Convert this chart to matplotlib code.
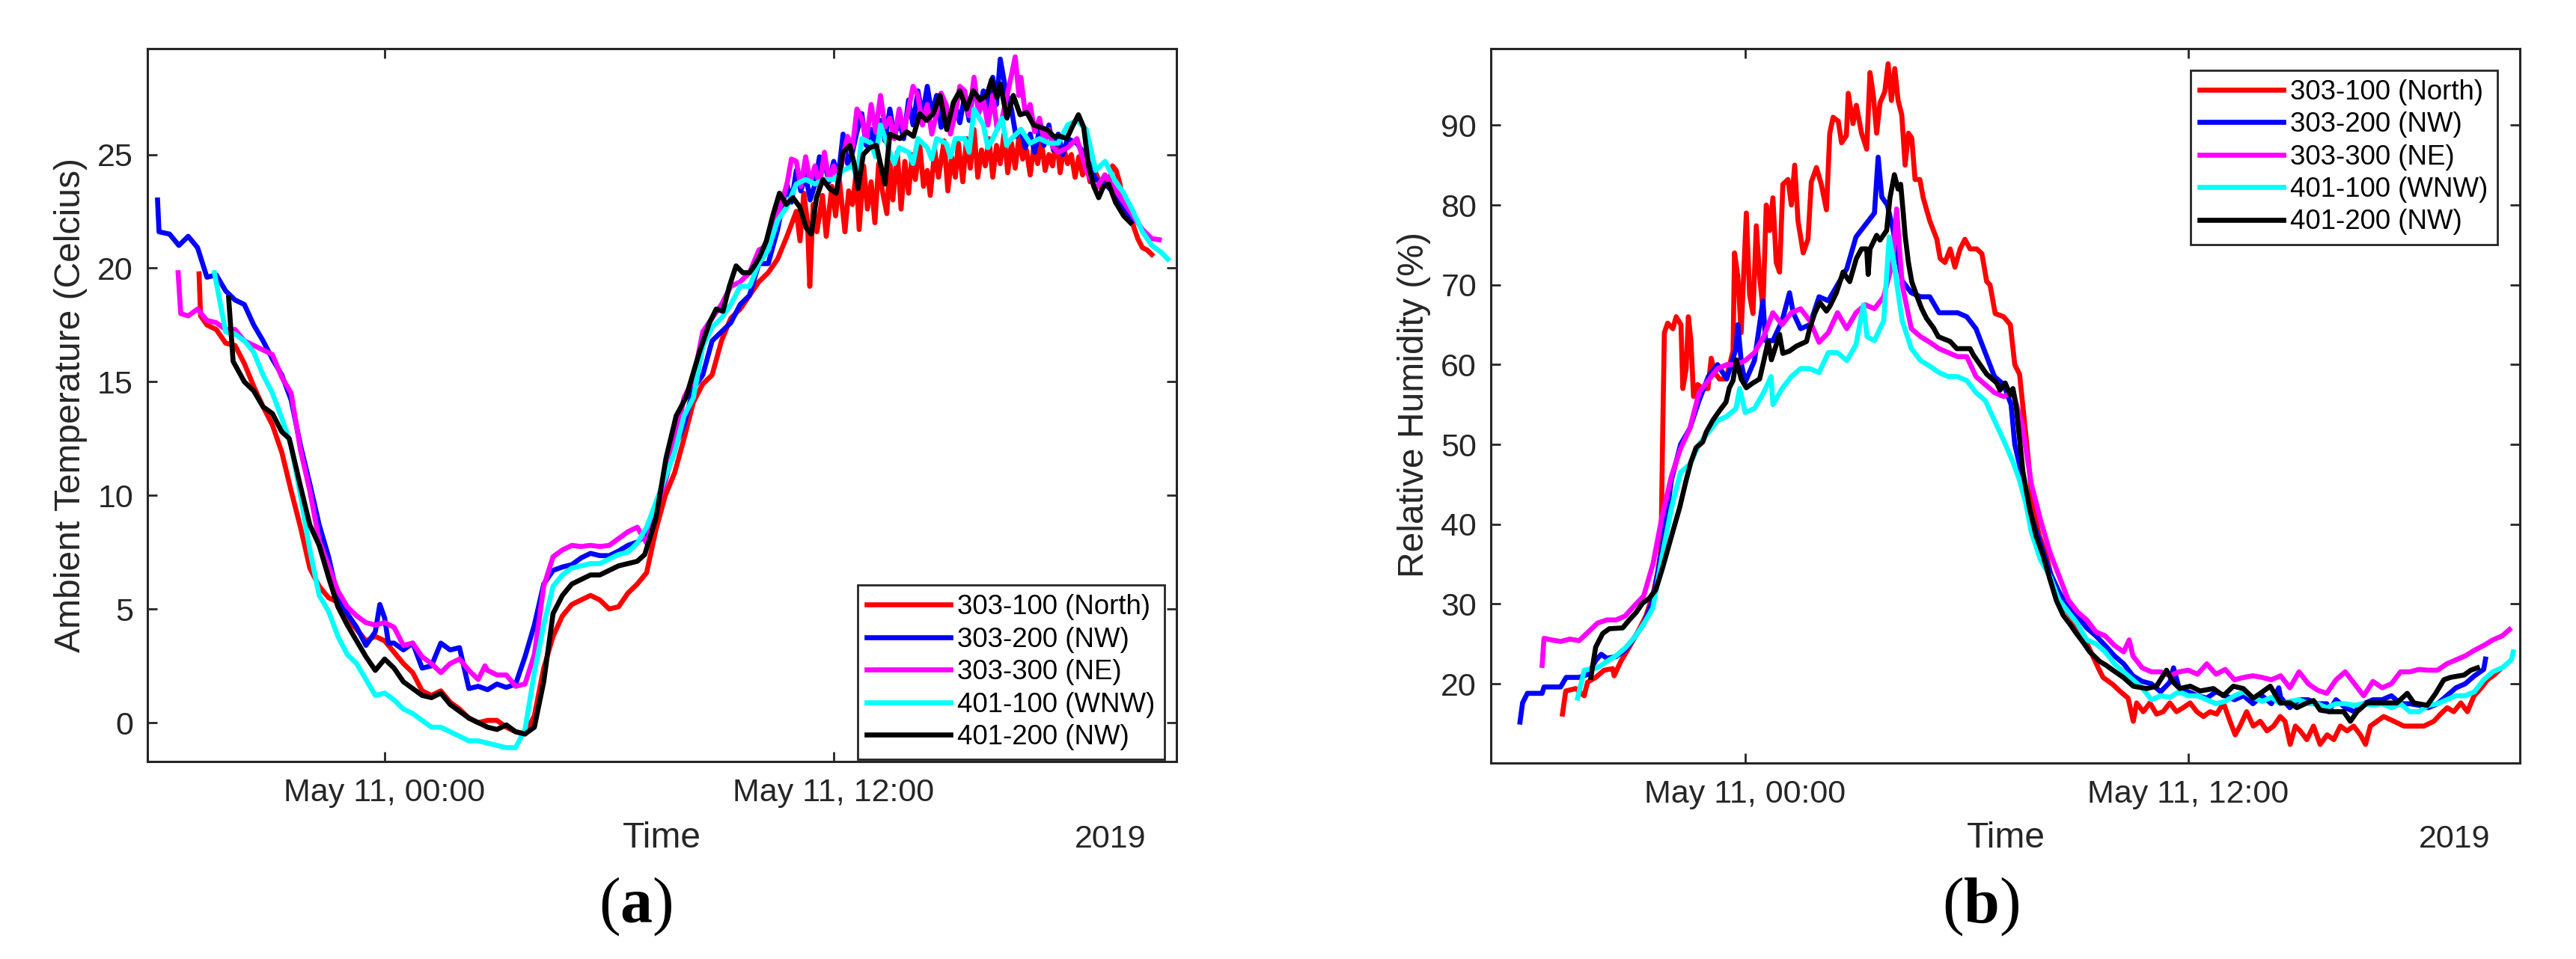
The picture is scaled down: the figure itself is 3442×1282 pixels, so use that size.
import numpy as np
import pandas as pd
import matplotlib
matplotlib.use('Agg')
import matplotlib.pyplot as plt

plt.rcParams['font.family'] = ['Liberation Sans', 'DejaVu Sans']
plt.rcParams['mathtext.fontset'] = 'custom'
plt.rcParams['mathtext.rm'] = 'Liberation Serif'
plt.rcParams['mathtext.bf'] = 'Liberation Serif:bold'

# sensor names and MATLAB colours
labels = ['303-100 (North)', '303-200 (NW)', '303-300 (NE)', '401-100 (WNW)', '401-200 (NW)']
colors = ['#FF0000', '#0000FF', '#FF00FF', '#00FFFF', '#000000']

# (hours from May 11 00:00, value)
# --- panel (a): ambient temperature, Celcius
a_red = [(-4.96, 19.75), (-4.92, 17.9), (-4.75, 17.5), (-4.5, 17.3), (-4.25, 16.7), (-4.0, 16.6),
         (-3.75, 15.8), (-3.5, 14.8), (-3.25, 13.9), (-3.0, 13.1), (-2.75, 11.9), (-2.5, 10.2),
         (-2.25, 8.6), (-2.0, 6.8), (-1.75, 6.0), (-1.5, 5.5), (-1.25, 5.3), (-1.0, 4.6), (-0.75, 4.1),
         (-0.5, 3.6), (-0.25, 3.8), (0.0, 3.6), (0.25, 3.1), (0.5, 2.6), (0.75, 2.2), (1.0, 1.4),
         (1.25, 1.2), (1.5, 1.4), (1.75, 0.9), (2.0, 0.6), (2.25, 0.2), (2.5, 0.0), (2.75, 0.1),
         (3.0, 0.1), (3.25, -0.2), (3.5, -0.4), (3.75, -0.5), (4.0, 0.3), (4.25, 2.4), (4.5, 3.8),
         (4.75, 4.7), (5.0, 5.2), (5.25, 5.4), (5.5, 5.6), (5.75, 5.4), (6.0, 5.0), (6.25, 5.1),
         (6.5, 5.7), (6.75, 6.1), (7.0, 6.6), (7.25, 8.5), (7.5, 10.0), (7.75, 11.0), (8.0, 12.5),
         (8.25, 14.1), (8.5, 14.9), (8.75, 15.3), (9.0, 16.8), (9.25, 17.8), (9.5, 18.2), (9.75, 18.8),
         (10.0, 19.4), (10.25, 19.8), (10.5, 20.4), (10.75, 21.4), (11.0, 22.5), (11.1, 21.2),
         (11.2, 23.3), (11.3, 22.0), (11.36, 19.2), (11.45, 22.8), (11.55, 21.6), (11.7, 23.2),
         (11.8, 21.4), (11.95, 23.6), (12.05, 22.3), (12.15, 23.9), (12.3, 21.6), (12.4, 23.4),
         (12.5, 22.8), (12.6, 24.2), (12.68, 21.7), (12.8, 24.5), (12.9, 22.6), (13.0, 23.8),
         (13.1, 22.0), (13.2, 24.6), (13.3, 23.4), (13.42, 22.4), (13.5, 24.8), (13.58, 23.0),
         (13.7, 25.1), (13.8, 22.6), (13.9, 24.7), (14.0, 23.3), (14.1, 25.0), (14.18, 23.9),
         (14.3, 25.4), (14.4, 23.6), (14.5, 24.3), (14.58, 23.2), (14.7, 25.2), (14.8, 24.0),
         (14.95, 25.6), (15.05, 23.4), (15.15, 24.9), (15.25, 24.0), (15.33, 25.5), (15.45, 23.8),
         (15.55, 25.7), (15.65, 24.4), (15.75, 26.1), (15.85, 24.0), (15.95, 25.2), (16.05, 24.5),
         (16.15, 25.7), (16.25, 24.0), (16.35, 25.4), (16.45, 24.6), (16.55, 25.9), (16.65, 24.2),
         (16.75, 25.5), (16.85, 24.4), (16.95, 25.8), (17.05, 24.8), (17.15, 25.2), (17.25, 24.1),
         (17.35, 25.4), (17.45, 24.6), (17.55, 25.6), (17.65, 24.3), (17.75, 25.0), (17.85, 24.5),
         (17.95, 25.8), (18.05, 24.2), (18.15, 25.3), (18.25, 24.6), (18.35, 25.0), (18.45, 24.0),
         (18.55, 24.9), (18.65, 24.1), (18.75, 24.6), (18.85, 23.8), (18.95, 24.4), (19.05, 24.0),
         (19.15, 23.5), (19.25, 24.1), (19.35, 23.7), (19.45, 24.5), (19.55, 24.3), (19.65, 23.7),
         (19.75, 22.8), (19.875, 22.3), (20.0, 21.9), (20.125, 21.3), (20.25, 20.9), (20.375, 20.8),
         (20.5, 20.6)]
a_blue = [(-6.07, 23.0), (-6.03, 21.6), (-5.75, 21.5), (-5.5, 21.0), (-5.25, 21.4), (-5.0, 20.9),
          (-4.75, 19.6), (-4.5, 19.7), (-4.25, 19.0), (-4.0, 18.6), (-3.75, 18.4), (-3.5, 17.5),
          (-3.25, 16.8), (-3.0, 16.0), (-2.75, 15.3), (-2.5, 14.2), (-2.25, 12.2), (-2.0, 10.5),
          (-1.75, 8.7), (-1.5, 7.3), (-1.25, 5.5), (-1.0, 4.8), (-0.75, 4.2), (-0.5, 3.4), (-0.25, 4.0),
          (-0.13, 5.2), (0.0, 4.6), (0.1, 3.5), (0.25, 3.5), (0.5, 3.2), (0.75, 3.5), (1.0, 2.4),
          (1.25, 2.5), (1.5, 3.5), (1.75, 3.2), (2.0, 3.3), (2.25, 1.5), (2.5, 1.6), (2.75, 1.45),
          (3.0, 1.7), (3.25, 1.55), (3.5, 1.7), (3.75, 2.9), (4.0, 4.3), (4.25, 6.1), (4.5, 6.7),
          (4.75, 6.85), (5.0, 6.95), (5.25, 7.25), (5.5, 7.45), (5.75, 7.35), (6.0, 7.35), (6.25, 7.55),
          (6.5, 7.8), (6.75, 7.95), (7.0, 8.3), (7.25, 9.6), (7.5, 10.8), (7.75, 12.1), (8.0, 13.1),
          (8.25, 14.7), (8.5, 15.3), (8.75, 16.8), (9.0, 17.2), (9.25, 17.6), (9.5, 18.4), (9.75, 18.8),
          (10.0, 20.2), (10.25, 20.2), (10.5, 21.7), (10.75, 23.7), (10.87, 22.9), (11.0, 24.3),
          (11.12, 23.4), (11.25, 24.1), (11.37, 23.0), (11.5, 23.7), (11.62, 24.9), (11.75, 24.7),
          (11.87, 23.8), (12.0, 24.7), (12.12, 24.0), (12.25, 25.9), (12.37, 24.6), (12.5, 25.1),
          (12.62, 26.0), (12.75, 26.8), (12.87, 25.4), (13.0, 26.1), (13.12, 25.3), (13.25, 26.5),
          (13.37, 25.6), (13.5, 27.0), (13.62, 25.8), (13.75, 26.5), (13.87, 25.7), (14.0, 27.4),
          (14.12, 26.3), (14.25, 27.8), (14.37, 26.7), (14.5, 28.0), (14.62, 26.8), (14.75, 27.6),
          (14.87, 26.2), (15.0, 27.2), (15.12, 26.0), (15.25, 27.2), (15.37, 26.4), (15.5, 27.6),
          (15.62, 26.5), (15.75, 28.2), (15.87, 26.9), (16.0, 27.8), (16.12, 26.8), (16.25, 28.4),
          (16.35, 27.2), (16.45, 29.2), (16.6, 27.8), (16.75, 27.0), (16.87, 25.8), (17.0, 26.1),
          (17.12, 25.3), (17.25, 25.9), (17.37, 25.1), (17.5, 26.1), (17.62, 25.4), (17.75, 26.3),
          (17.87, 25.2), (18.0, 25.9), (18.12, 25.0), (18.25, 25.7), (18.5, 25.5), (18.75, 24.9),
          (19.0, 23.9), (19.25, 23.7), (19.5, 23.3), (19.75, 22.7), (20.0, 22.1)]
a_magenta = [(-5.52, 19.8), (-5.45, 18.0), (-5.25, 17.9), (-5.0, 18.2), (-4.75, 17.7), (-4.5, 17.6),
             (-4.25, 17.3), (-4.0, 17.3), (-3.75, 16.8), (-3.5, 16.6), (-3.25, 16.4), (-3.0, 16.2),
             (-2.75, 15.2), (-2.5, 14.5), (-2.25, 12.0), (-2.0, 10.2), (-1.75, 8.0), (-1.5, 6.9),
             (-1.25, 5.8), (-1.0, 5.1), (-0.75, 4.7), (-0.5, 4.4), (-0.25, 4.3), (0.0, 4.4), (0.25, 4.2),
             (0.5, 3.4), (0.75, 3.5), (1.0, 2.9), (1.25, 2.6), (1.5, 2.2), (1.75, 2.6), (2.0, 2.8),
             (2.25, 2.3), (2.5, 1.9), (2.68, 2.5), (2.75, 2.3), (3.0, 2.1), (3.25, 2.1), (3.5, 1.6),
             (3.75, 1.7), (4.0, 3.0), (4.25, 6.0), (4.5, 7.3), (4.75, 7.6), (5.0, 7.8), (5.25, 7.75),
             (5.5, 7.8), (5.75, 7.75), (6.0, 7.8), (6.25, 8.1), (6.5, 8.4), (6.75, 8.6), (7.0, 7.9),
             (7.25, 9.4), (7.5, 10.6), (7.75, 12.3), (8.0, 14.3), (8.25, 15.1), (8.5, 17.2), (8.75, 17.8),
             (9.0, 18.4), (9.25, 19.2), (9.5, 19.4), (9.75, 19.8), (10.0, 20.8), (10.25, 21.0), (10.5, 22.3),
             (10.75, 23.7), (10.87, 24.8), (11.0, 24.7), (11.12, 23.6), (11.25, 24.9), (11.37, 23.8),
             (11.5, 24.5), (11.62, 23.6), (11.75, 25.1), (11.87, 23.9), (12.0, 24.5), (12.12, 23.7),
             (12.25, 24.9), (12.37, 25.8), (12.5, 25.3), (12.62, 27.0), (12.75, 26.6), (12.87, 25.6),
             (13.0, 27.2), (13.12, 26.0), (13.25, 27.6), (13.37, 26.2), (13.5, 26.6), (13.62, 25.7),
             (13.75, 27.0), (13.87, 26.0), (14.0, 27.0), (14.12, 28.0), (14.25, 27.6), (14.37, 26.3),
             (14.5, 27.2), (14.62, 25.9), (14.75, 26.8), (14.87, 27.7), (15.0, 27.2), (15.12, 25.9),
             (15.25, 26.8), (15.37, 28.0), (15.5, 27.8), (15.62, 26.7), (15.75, 28.4), (15.87, 26.8),
             (16.0, 27.4), (16.12, 26.3), (16.25, 27.6), (16.37, 26.1), (16.5, 26.6), (16.62, 27.5),
             (16.75, 28.5), (16.85, 29.3), (16.95, 27.6), (17.0, 28.4), (17.12, 26.8), (17.25, 27.2),
             (17.37, 26.0), (17.5, 26.6), (17.62, 25.6), (17.75, 26.1), (17.87, 25.3), (18.0, 25.1),
             (18.25, 25.3), (18.5, 25.7), (18.75, 24.3), (19.0, 23.5), (19.25, 24.1), (19.5, 23.5),
             (19.75, 22.9), (20.0, 22.3), (20.25, 21.7), (20.5, 21.3), (20.7, 21.25)]
a_cyan = [(-4.55, 19.8), (-4.25, 17.2), (-4.0, 17.1), (-3.75, 16.8), (-3.5, 16.3), (-3.25, 15.3),
          (-3.0, 14.5), (-2.75, 13.4), (-2.5, 12.2), (-2.25, 10.0), (-2.0, 7.6), (-1.75, 5.6), (-1.5, 4.9),
          (-1.25, 3.8), (-1.0, 3.0), (-0.75, 2.6), (-0.5, 1.9), (-0.25, 1.2), (0.0, 1.3), (0.25, 1.0),
          (0.5, 0.6), (0.75, 0.4), (1.0, 0.1), (1.25, -0.2), (1.5, -0.2), (1.75, -0.4), (2.0, -0.6),
          (2.25, -0.8), (2.5, -0.8), (2.75, -0.9), (3.0, -1.0), (3.25, -1.1), (3.5, -1.1), (3.75, -0.3),
          (4.0, 2.2), (4.25, 4.3), (4.5, 6.0), (4.75, 6.5), (5.0, 6.8), (5.25, 6.9), (5.5, 7.0),
          (5.75, 7.0), (6.0, 7.2), (6.25, 7.4), (6.5, 7.5), (6.75, 7.9), (7.0, 8.6), (7.25, 9.7),
          (7.5, 10.8), (7.75, 11.9), (8.0, 13.5), (8.25, 14.3), (8.5, 16.55), (8.75, 17.4), (9.0, 17.8),
          (9.25, 18.4), (9.5, 19.2), (9.75, 19.2), (10.0, 20.2), (10.25, 20.8), (10.5, 22.1), (10.75, 22.7),
          (11.0, 23.7), (11.25, 23.9), (11.5, 23.7), (11.75, 23.9), (12.0, 23.9), (12.25, 24.3),
          (12.5, 24.5), (12.62, 24.0), (12.75, 25.7), (13.0, 25.5), (13.12, 24.9), (13.25, 26.3),
          (13.5, 25.1), (13.62, 24.6), (13.75, 25.3), (14.0, 25.1), (14.12, 24.6), (14.25, 25.7),
          (14.5, 25.3), (14.62, 24.8), (14.75, 25.7), (15.0, 25.5), (15.12, 24.9), (15.25, 25.7),
          (15.5, 25.7), (15.62, 25.1), (15.75, 27.0), (16.0, 26.3), (16.12, 25.3), (16.25, 25.7),
          (16.5, 26.6), (16.62, 25.4), (16.75, 25.7), (17.0, 26.1), (17.25, 25.5), (17.5, 25.7),
          (17.75, 25.5), (18.0, 25.5), (18.25, 26.3), (18.5, 26.5), (18.75, 26.1), (19.0, 24.3),
          (19.25, 24.7), (19.5, 23.9), (19.75, 23.3), (20.0, 22.5), (20.25, 21.6), (20.5, 21.0),
          (20.75, 20.7), (20.93, 20.4)]
a_black = [(-4.17, 18.7), (-4.05, 15.9), (-3.75, 15.0), (-3.5, 14.6), (-3.25, 13.9), (-3.0, 13.6),
           (-2.75, 12.8), (-2.55, 12.5), (-2.25, 10.4), (-2.0, 8.7), (-1.75, 7.8), (-1.5, 6.4),
           (-1.25, 5.1), (-1.0, 4.3), (-0.75, 3.6), (-0.5, 2.9), (-0.25, 2.3), (0.0, 2.8), (0.25, 2.4),
           (0.5, 1.8), (0.75, 1.5), (1.0, 1.2), (1.25, 1.1), (1.5, 1.3), (1.75, 0.8), (2.0, 0.5),
           (2.25, 0.2), (2.5, 0.0), (2.75, -0.2), (3.0, -0.3), (3.25, -0.1), (3.5, -0.4), (3.75, -0.5),
           (4.0, -0.2), (4.25, 1.8), (4.5, 4.8), (4.75, 5.6), (5.0, 6.1), (5.25, 6.3), (5.5, 6.5),
           (5.75, 6.5), (6.0, 6.7), (6.25, 6.9), (6.5, 7.0), (6.75, 7.1), (6.95, 7.4), (7.25, 9.0),
           (7.52, 11.65), (7.79, 13.5), (8.05, 14.3), (8.41, 16.3), (8.68, 17.6), (8.86, 18.2),
           (9.04, 18.1), (9.21, 19.2), (9.39, 20.1), (9.57, 19.8), (9.75, 19.8), (9.88, 20.1),
           (10.02, 20.5), (10.2, 21.2), (10.37, 22.3), (10.55, 23.3), (10.73, 22.8), (10.91, 23.1),
           (11.09, 22.7), (11.27, 21.75), (11.4, 21.5), (11.54, 23.1), (11.71, 23.9), (11.89, 23.5),
           (12.07, 23.3), (12.25, 25.1), (12.43, 25.4), (12.56, 24.5), (12.65, 23.5), (12.79, 25.0),
           (12.96, 25.3), (13.14, 25.4), (13.37, 23.7), (13.5, 25.9), (13.77, 25.7), (13.95, 26.0),
           (14.13, 25.8), (14.3, 26.8), (14.48, 26.5), (14.66, 26.8), (14.84, 27.6), (15.02, 26.1),
           (15.2, 27.3), (15.37, 27.8), (15.55, 27.0), (15.73, 27.8), (15.91, 27.4), (16.09, 27.6),
           (16.22, 28.3), (16.36, 27.5), (16.45, 28.1), (16.63, 26.6), (16.8, 27.6), (16.98, 26.75),
           (17.16, 26.85), (17.34, 26.3), (17.52, 26.2), (17.7, 26.1), (17.88, 25.8), (18.05, 25.8),
           (18.23, 25.7), (18.37, 26.2), (18.54, 26.75), (18.68, 26.2), (18.81, 24.5), (18.95, 23.6),
           (19.08, 23.1), (19.21, 23.6), (19.35, 23.7), (19.53, 22.9), (19.75, 22.3), (19.93, 22.0)]

# --- panel (b): relative humidity, %
b_red = [(-4.95, 16.2), (-4.86, 19.1), (-4.59, 19.4), (-4.36, 18.5), (-4.27, 20.2), (-4.05, 20.8),
         (-3.82, 21.7), (-3.59, 21.9), (-3.55, 21.0), (-3.37, 22.8), (-3.14, 24.6), (-2.91, 26.5),
         (-2.69, 28.5), (-2.51, 31.0), (-2.37, 34.0), (-2.28, 37.0), (-2.24, 50.0), (-2.19, 64.0),
         (-2.1, 65.2), (-1.96, 64.5), (-1.87, 66.0), (-1.74, 65.0), (-1.69, 57.0), (-1.6, 59.5),
         (-1.54, 66.0), (-1.47, 63.0), (-1.4, 56.0), (-1.29, 57.5), (-1.15, 57.0), (-1.01, 57.0),
         (-0.92, 60.8), (-0.83, 59.0), (-0.7, 58.2), (-0.52, 58.2), (-0.33, 61.7), (-0.29, 74.0),
         (-0.2, 71.0), (-0.11, 64.0), (0.03, 79.0), (0.12, 68.7), (0.21, 66.4), (0.3, 77.4), (0.39, 71.0),
         (0.48, 67.0), (0.57, 80.0), (0.66, 76.8), (0.75, 80.9), (0.84, 72.8), (0.93, 71.6), (1.02, 82.6),
         (1.16, 83.2), (1.25, 80.0), (1.34, 85.0), (1.43, 78.0), (1.57, 74.0), (1.7, 75.7), (1.79, 82.9),
         (1.93, 84.7), (2.06, 82.6), (2.2, 79.4), (2.29, 89.0), (2.38, 91.0), (2.52, 90.5), (2.61, 87.8),
         (2.74, 88.7), (2.79, 94.0), (2.92, 90.2), (3.01, 92.5), (3.15, 89.0), (3.29, 87.0), (3.38, 96.6),
         (3.47, 93.7), (3.56, 89.0), (3.65, 92.8), (3.78, 94.2), (3.87, 97.7), (3.96, 93.1), (4.05, 97.1),
         (4.14, 93.1), (4.24, 91.3), (4.33, 85.0), (4.42, 89.0), (4.51, 88.4), (4.6, 83.2), (4.73, 83.2),
         (4.82, 80.9), (5.0, 78.0), (5.19, 75.7), (5.28, 73.3), (5.41, 72.8), (5.55, 74.5), (5.68, 72.2),
         (5.82, 74.5), (5.95, 75.7), (6.09, 74.5), (6.27, 74.5), (6.41, 73.9), (6.54, 70.4), (6.63, 70.0),
         (6.77, 66.4), (7.0, 66.0), (7.18, 65.0), (7.3, 60.0), (7.43, 58.8), (7.52, 54.8), (7.61, 50.7),
         (7.7, 46.6), (7.79, 42.0), (7.97, 38.5), (8.15, 36.2), (8.33, 32.7), (8.52, 31.0), (8.7, 29.2),
         (8.88, 28.0), (9.06, 26.0), (9.24, 25.2), (9.42, 23.4), (9.56, 22.0), (9.69, 20.8), (9.87, 20.2),
         (9.96, 19.9), (10.14, 19.1), (10.37, 18.2), (10.51, 15.3), (10.6, 17.6), (10.78, 16.5),
         (10.96, 17.6), (11.14, 16.2), (11.32, 16.5), (11.5, 17.6), (11.68, 16.5), (11.86, 17.0),
         (12.05, 17.6), (12.23, 16.5), (12.41, 15.9), (12.59, 16.5), (12.77, 16.2), (12.95, 17.6),
         (13.13, 15.3), (13.27, 13.6), (13.4, 14.7), (13.58, 16.5), (13.76, 14.7), (13.95, 15.3),
         (14.13, 14.1), (14.31, 14.7), (14.49, 15.9), (14.62, 15.3), (14.76, 12.4), (14.9, 14.7),
         (15.03, 14.1), (15.21, 13.0), (15.39, 14.7), (15.57, 12.4), (15.76, 13.6), (15.94, 13.0),
         (16.12, 14.7), (16.3, 14.1), (16.48, 14.7), (16.66, 13.6), (16.8, 12.4), (16.93, 14.7),
         (17.11, 15.3), (17.29, 15.9), (17.57, 15.3), (17.84, 14.7), (18.11, 14.7), (18.38, 14.7),
         (18.65, 15.3), (18.83, 16.2), (19.01, 17.0), (19.19, 16.5), (19.38, 17.6), (19.56, 16.5),
         (19.74, 18.5), (19.92, 19.4), (20.1, 20.5), (20.28, 21.1), (20.42, 21.7)]
b_blue = [(-6.1, 15.2), (-6.03, 17.6), (-5.9, 18.8), (-5.5, 18.8), (-5.45, 19.6), (-5.0, 19.6),
          (-4.85, 20.8), (-4.5, 20.8), (-4.25, 21.2), (-4.05, 22.9), (-3.9, 23.7), (-3.75, 23.2),
          (-3.5, 23.4), (-3.25, 24.2), (-3.0, 25.8), (-2.75, 27.5), (-2.5, 30.5), (-2.25, 37.0),
          (-2.0, 45.5), (-1.75, 50.0), (-1.5, 52.0), (-1.25, 55.5), (-1.0, 58.5), (-0.75, 60.0),
          (-0.5, 58.2), (-0.25, 62.0), (-0.2, 65.0), (-0.1, 60.0), (0.0, 57.8), (0.25, 60.5), (0.48, 68.0),
          (0.55, 63.0), (0.75, 63.0), (1.0, 65.5), (1.2, 69.0), (1.3, 66.5), (1.5, 64.5), (1.75, 65.0),
          (2.0, 68.5), (2.25, 68.0), (2.5, 70.0), (2.75, 72.0), (3.0, 76.0), (3.25, 77.5), (3.5, 79.0),
          (3.6, 86.0), (3.7, 81.0), (3.85, 80.0), (4.0, 77.0), (4.25, 70.5), (4.5, 69.0), (4.75, 68.5),
          (5.0, 68.5), (5.25, 66.5), (5.5, 66.5), (5.75, 66.5), (6.0, 66.0), (6.25, 64.5), (6.5, 61.5),
          (6.75, 58.5), (7.0, 57.5), (7.2, 55.0), (7.3, 50.0), (7.5, 46.0), (7.75, 41.0), (8.0, 37.5),
          (8.25, 34.0), (8.5, 31.5), (8.75, 29.5), (9.0, 28.5), (9.25, 27.0), (9.5, 26.0), (9.75, 24.8),
          (10.0, 23.5), (10.25, 22.5), (10.5, 21.0), (10.75, 20.3), (11.0, 20.0), (11.25, 19.0),
          (11.5, 20.2), (11.6, 22.0), (11.75, 19.5), (12.0, 19.0), (12.25, 18.5), (12.5, 18.2),
          (12.75, 19.0), (13.0, 18.5), (13.25, 18.0), (13.5, 18.5), (13.75, 17.5), (14.0, 18.5),
          (14.25, 17.5), (14.45, 19.5), (14.5, 18.3), (14.75, 17.0), (15.0, 18.0), (15.25, 18.0),
          (15.5, 17.5), (15.75, 17.5), (15.8, 16.5), (16.0, 18.0), (16.25, 17.0), (16.5, 16.5),
          (16.75, 17.5), (17.0, 18.0), (17.25, 18.0), (17.5, 18.5), (17.75, 17.5), (18.0, 17.5),
          (18.25, 17.3), (18.5, 17.0), (18.75, 17.5), (19.0, 18.5), (19.25, 19.5), (19.5, 20.0),
          (19.75, 21.0), (20.0, 21.8), (20.05, 23.1)]
b_magenta = [(-5.5, 22.3), (-5.45, 25.7), (-5.25, 25.5), (-5.0, 25.3), (-4.75, 25.6), (-4.5, 25.4),
             (-4.25, 26.5), (-4.0, 27.6), (-3.75, 28.0), (-3.5, 28.0), (-3.25, 28.5), (-3.0, 29.8),
             (-2.75, 31.0), (-2.5, 35.0), (-2.25, 41.0), (-2.0, 46.0), (-1.75, 49.5), (-1.5, 52.0),
             (-1.25, 56.5), (-1.0, 58.0), (-0.75, 59.5), (-0.5, 60.0), (-0.25, 60.0), (0.0, 60.5),
             (0.25, 61.5), (0.5, 63.5), (0.75, 66.5), (1.0, 65.0), (1.25, 66.5), (1.5, 67.0), (1.75, 65.5),
             (2.0, 62.8), (2.25, 64.0), (2.5, 66.5), (2.75, 64.5), (3.0, 66.5), (3.25, 67.5), (3.5, 67.0),
             (3.75, 68.5), (4.0, 73.0), (4.1, 79.5), (4.25, 70.0), (4.5, 64.5), (4.75, 63.5), (5.0, 62.8),
             (5.25, 62.0), (5.5, 61.5), (5.75, 61.0), (6.0, 61.0), (6.25, 58.5), (6.5, 57.5), (6.75, 56.5),
             (7.0, 56.0), (7.25, 56.5), (7.5, 52.5), (7.75, 45.0), (8.0, 40.5), (8.25, 36.5), (8.5, 33.5),
             (8.75, 30.5), (9.0, 29.0), (9.25, 28.0), (9.5, 26.5), (9.75, 26.0), (10.0, 24.8), (10.25, 24.0),
             (10.4, 25.5), (10.5, 23.5), (10.75, 22.0), (11.0, 21.5), (11.25, 21.5), (11.5, 21.0),
             (11.75, 21.5), (12.0, 21.7), (12.25, 21.2), (12.5, 22.5), (12.75, 21.2), (13.0, 21.8),
             (13.25, 20.5), (13.5, 20.8), (13.75, 21.0), (14.0, 20.8), (14.25, 20.5), (14.5, 21.0),
             (14.75, 19.5), (15.0, 21.5), (15.25, 20.0), (15.5, 19.2), (15.75, 18.8), (16.0, 20.5),
             (16.25, 21.5), (16.5, 20.0), (16.75, 18.5), (17.0, 20.3), (17.25, 19.5), (17.5, 20.0),
             (17.75, 21.5), (18.0, 21.5), (18.25, 21.8), (18.5, 21.7), (18.75, 21.7), (19.0, 22.5),
             (19.25, 23.0), (19.5, 23.5), (19.75, 24.2), (20.0, 24.8), (20.25, 25.5), (20.5, 26.0),
             (20.7, 26.8)]
b_cyan = [(-4.54, 18.2), (-4.36, 21.7), (-4.0, 22.0), (-3.75, 22.8), (-3.5, 23.5), (-3.25, 24.5),
          (-3.0, 25.8), (-2.75, 27.5), (-2.5, 29.5), (-2.25, 36.0), (-2.0, 42.0), (-1.75, 46.5),
          (-1.5, 47.5), (-1.25, 50.0), (-1.0, 51.5), (-0.75, 53.0), (-0.5, 53.5), (-0.25, 54.5),
          (-0.15, 57.0), (0.0, 54.0), (0.25, 54.5), (0.5, 56.5), (0.7, 58.5), (0.75, 55.0), (1.0, 57.0),
          (1.25, 58.5), (1.5, 59.5), (1.75, 59.5), (2.0, 59.0), (2.25, 61.5), (2.5, 61.5), (2.75, 60.5),
          (3.0, 62.5), (3.2, 67.5), (3.3, 63.5), (3.5, 63.0), (3.75, 65.5), (3.9, 76.0), (4.0, 73.5),
          (4.25, 65.5), (4.5, 62.0), (4.75, 60.5), (5.0, 59.8), (5.25, 59.0), (5.5, 58.5), (5.75, 58.5),
          (6.0, 58.0), (6.25, 56.5), (6.5, 55.5), (6.75, 53.0), (7.0, 50.5), (7.25, 47.8), (7.43, 45.5),
          (7.6, 42.6), (7.75, 39.0), (8.0, 35.5), (8.25, 33.5), (8.5, 30.5), (8.75, 29.0), (9.0, 27.5),
          (9.25, 25.5), (9.5, 25.0), (9.75, 24.0), (10.0, 22.5), (10.25, 21.5), (10.5, 20.5),
          (10.75, 19.5), (11.0, 18.0), (11.25, 18.5), (11.5, 18.3), (11.75, 19.0), (12.0, 18.5),
          (12.25, 18.5), (12.5, 18.0), (12.75, 17.5), (13.0, 17.8), (13.25, 18.5), (13.5, 19.0),
          (13.75, 18.3), (14.0, 17.8), (14.25, 18.3), (14.5, 17.5), (14.75, 17.8), (15.0, 18.0),
          (15.25, 17.5), (15.5, 17.5), (15.75, 17.0), (16.0, 17.5), (16.25, 17.5), (16.5, 17.3),
          (16.75, 17.5), (17.0, 17.3), (17.25, 17.5), (17.5, 17.0), (17.75, 17.5), (18.0, 16.5),
          (18.25, 16.5), (18.5, 17.3), (18.75, 17.5), (19.0, 18.0), (19.25, 18.5), (19.5, 18.5),
          (19.75, 19.0), (20.0, 20.5), (20.25, 21.5), (20.5, 22.0), (20.75, 23.0), (20.8, 24.0)]
b_black = [(-4.18, 20.8), (-4.05, 24.6), (-3.86, 26.3), (-3.68, 26.9), (-3.32, 27.0), (-3.14, 28.0),
           (-2.96, 28.9), (-2.78, 30.1), (-2.6, 30.7), (-2.42, 31.8), (-2.24, 34.5), (-2.1, 36.8),
           (-1.96, 39.1), (-1.78, 42.0), (-1.6, 45.5), (-1.47, 47.8), (-1.33, 49.6), (-1.15, 50.3),
           (-1.06, 51.5), (-0.88, 53.0), (-0.7, 54.2), (-0.52, 55.3), (-0.43, 57.1), (-0.33, 58.0),
           (-0.24, 60.6), (-0.11, 58.2), (0.03, 57.1), (0.21, 57.7), (0.39, 58.2), (0.48, 60.0),
           (0.62, 62.9), (0.71, 60.6), (0.93, 63.8), (1.02, 61.4), (1.2, 61.7), (1.38, 62.3), (1.66, 62.9),
           (1.75, 64.6), (1.88, 66.4), (2.02, 67.8), (2.2, 66.7), (2.29, 67.3), (2.47, 69.0), (2.65, 71.6),
           (2.83, 70.4), (3.01, 73.3), (3.15, 74.5), (3.29, 74.5), (3.33, 71.3), (3.38, 74.5), (3.56, 76.2),
           (3.65, 75.6), (3.83, 76.8), (3.92, 80.9), (4.04, 83.8), (4.14, 82.0), (4.21, 82.6), (4.28, 79.0),
           (4.33, 76.2), (4.42, 72.8), (4.51, 70.4), (4.64, 68.7), (4.78, 67.0), (4.91, 65.8), (5.1, 64.6),
           (5.23, 63.5), (5.55, 62.9), (5.73, 62.0), (6.09, 62.0), (6.18, 61.2), (6.36, 60.0), (6.54, 58.8),
           (6.81, 57.7), (6.9, 56.8), (7.04, 57.7), (7.18, 56.2), (7.25, 57.0), (7.34, 54.8), (7.43, 50.7),
           (7.52, 46.6), (7.7, 42.0), (7.88, 38.5), (8.06, 36.2), (8.24, 33.3), (8.43, 30.4), (8.61, 28.6),
           (8.79, 27.5), (8.97, 26.3), (9.15, 25.2), (9.33, 24.0), (9.6, 22.8), (9.78, 22.3), (9.96, 21.7),
           (10.24, 20.8), (10.51, 19.7), (10.87, 19.4), (11.14, 19.7), (11.41, 21.7), (11.59, 20.2),
           (11.77, 19.4), (12.05, 19.7), (12.32, 19.1), (12.68, 19.4), (12.95, 18.5), (13.22, 19.7),
           (13.49, 19.4), (13.76, 18.2), (13.95, 18.8), (14.22, 19.7), (14.49, 17.6), (14.76, 17.6),
           (14.94, 17.0), (15.21, 17.6), (15.39, 17.9), (15.57, 16.7), (15.85, 16.5), (16.21, 16.5),
           (16.39, 15.3), (16.57, 16.5), (16.84, 17.6), (17.2, 17.6), (17.65, 17.6), (17.93, 18.8),
           (18.11, 17.6), (18.47, 17.3), (18.7, 18.8), (18.92, 20.5), (19.1, 20.8), (19.47, 21.1),
           (19.65, 21.7), (19.83, 22.0)]

a_series = [a_red, a_blue, a_magenta, a_cyan, a_black]
b_series = [b_red, b_blue, b_magenta, b_cyan, b_black]

xtick_hours = [0, 12]
xtick_labels = ['May 11, 00:00', 'May 11, 12:00']

midnight = pd.Timestamp('2019-05-11 00:00')


def to_time(hours):
    return midnight + pd.to_timedelta(np.asarray(hours, dtype=float), unit='h')


W, H = 3442, 1282
fig = plt.figure(figsize=(W / 200, H / 200), dpi=200)

dark = '#262626'


def panel(rect, series, xlim, ylim, yticks, ylabel, ylabel_x, legend_kw):
    ax = fig.add_axes(rect)
    for pts, c, lab in zip(series, colors, labels):
        t, v = zip(*pts)
        ax.plot(to_time(t), v, color=c, lw=2.4, label=lab)
    ax.set_xlim(to_time(xlim))
    ax.set_ylim(ylim)
    ax.set_xticks(to_time(xtick_hours))
    ax.set_xticklabels(xtick_labels)
    ax.set_yticks(yticks)
    ax.tick_params(direction='in', length=4.7, width=1.0, top=True, right=True,
                   labelsize=15.5, labelcolor=dark, color=dark)
    ax.tick_params(axis='x', pad=7.9)
    ax.tick_params(axis='y', pad=6.8)
    for s in ax.spines.values():
        s.set_color(dark)
        s.set_linewidth(1.1)
    fig.text(ylabel_x / W, 1 - 541 / H, ylabel, rotation=90, ha='center', va='center',
             fontsize=17.3, color=dark)
    leg = ax.legend(borderaxespad=0, fontsize=13.2, handlelength=3.05, handletextpad=0.25,
                    borderpad=0.33, labelspacing=0.23, fancybox=False, framealpha=1,
                    edgecolor=dark, **legend_kw)
    leg.get_frame().set_linewidth(1.0)
    return ax


panel([197 / W, 1 - 1018 / H, 1375 / W, 953 / H], a_series, [-6.34, 21.16], (-1.71, 29.66),
      [0, 5, 10, 15, 20, 25], 'Ambient Temperature (Celcius)', 95,
      dict(loc='lower right', bbox_to_anchor=(0.988, 0.003)))
panel([1992 / W, 1 - 1020 / H, 1375 / W, 955 / H], b_series, [-6.89, 20.98], (10.07, 99.6),
      [20, 30, 40, 50, 60, 70, 80, 90], 'Relative Humidity (%)', 1890,
      dict(loc='upper right', bbox_to_anchor=(0.978, 0.970)))

# x labels, year stamp and panel letters
for cx, yr_right, letter_x, letter in [(884, 1531, 849, 'a'), (2680, 3327, 2647, 'b')]:
    fig.text(cx / W, 1 - 1133 / H, 'Time', ha='center', va='baseline', fontsize=17.3, color=dark)
    fig.text(yr_right / W, 1 - 1133 / H, '2019', ha='right', va='baseline', fontsize=15.5, color=dark)
    fig.text(letter_x / W, 1 - 1212 / H, r'($\mathbf{%s}$)' % letter, ha='center', va='center',
             fontsize=31, family='Liberation Serif', color='black')

fig.savefig('out.png', dpi=200)
